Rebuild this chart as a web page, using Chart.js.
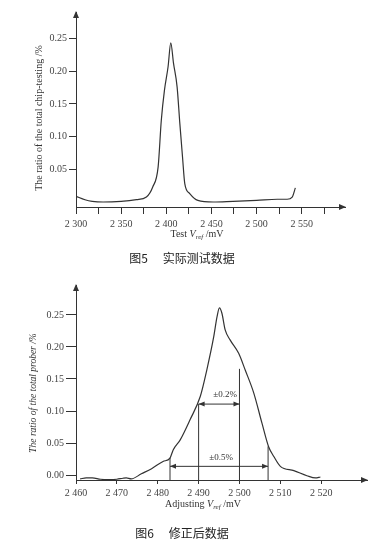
<!DOCTYPE html>
<html>
<head>
<meta charset="utf-8">
<script src="https://cdn.jsdelivr.net/npm/chart.js@4.4.1/dist/chart.umd.min.js"></script>
<style>
    body { margin: 0; background: #fff; width: 387px; height: 542px; position: relative; overflow: hidden;
           font-family: "Liberation Serif", serif; color: #333; }
    canvas { position: absolute; left: 0; }
    #chart1 { top: 0; }
    #chart2 { top: 270px; }
    .t { position: absolute; white-space: nowrap; font-size: 10px; transform: translate(-50%, -50%); }
    .ty { transform: translate(-50%, -50%) rotate(-90deg); }
    .cap { font-family: "Noto Sans CJK SC", sans-serif; font-size: 12px; color: #222; }
    .sub { font-size: 7px; position: relative; top: 2px; font-style: italic; }
</style>
</head>
<body>
<canvas id="chart1" width="387" height="240"></canvas>
<canvas id="chart2" width="387" height="245"></canvas>

<div class="t" style="left:197px;top:233px">Test <i>V</i><span class="sub">ref</span> /mV</div>
<div class="t ty" style="left:38px;top:118px">The ratio of the total chip-testing /%</div>
<div class="t cap" style="left:182px;top:257px">图5&emsp;&nbsp;实际测试数据</div>

<div class="t" style="left:203px;top:503px">Adjusting <i>V</i><span class="sub">ref</span> /mV</div>
<div class="t ty" style="left:33px;top:393px;font-size:9.5px;font-style:italic">The ratio of the total prober /%</div>
<div class="t cap" style="left:182px;top:532px">图6&emsp;&nbsp;修正后数据</div>

<script>
// Fig 5 - measured data
const testVoltage = [2300, 2310, 2318, 2330, 2350, 2367, 2378, 2385, 2391, 2394.5, 2398, 2402, 2405,
    2408, 2412, 2415, 2418, 2420.5, 2426, 2435, 2452, 2474, 2500, 2523, 2534, 2539.5, 2543];
const testRatio = [0.0092, 0.004, 0.0016, 0.0005, 0.0016, 0.0042, 0.0082, 0.0234, 0.054, 0.125, 0.171, 0.2066, 0.243,
    0.212, 0.176, 0.1207, 0.069, 0.0286, 0.0134, 0.003, 0.0005, 0.0016, 0.003, 0.0047, 0.0047, 0.008, 0.022];
const testXTicks = [2300, 2325, 2350, 2375, 2400, 2425, 2450, 2475, 2500, 2525, 2550, 2575];
const testYTicks = [0.05, 0.10, 0.15, 0.20, 0.25];

// Fig 6 - corrected data
const adjVoltage = [2461, 2462.5, 2464, 2466, 2468, 2470, 2471.5, 2472.3, 2473.5, 2476, 2478.5, 2481.3, 2483,
    2483.8, 2485.5, 2487.9, 2490.4, 2492, 2493.7, 2494.5, 2495.1, 2495.7, 2496.5, 2497.7, 2499.8, 2501.4,
    2503.5, 2505.5, 2507.1, 2508.4, 2510, 2513.3, 2516.5, 2518.6, 2519.8];
const adjRatio = [-0.006, -0.0045, -0.0045, -0.0065, -0.007, -0.0065, -0.005, -0.0045, -0.006, 0.002, 0.010, 0.0213, 0.0266,
    0.0396, 0.055, 0.0863, 0.1226, 0.164, 0.216, 0.247, 0.261, 0.2526, 0.2266, 0.211, 0.19, 0.164,
    0.128, 0.081, 0.0447, 0.029, 0.0136, 0.0069, -0.001, -0.0045, -0.003];
const adjXTicks = [2460, 2470, 2480, 2490, 2500, 2510, 2520];
const adjYTicks = [0, 0.05, 0.10, 0.15, 0.20, 0.25];

// tolerance markers in Fig 6
const markerX = [2483, 2490, 2500, 2507];
const markerTop = [0.027, 0.1108, 0.1658, 0.0447];
const spanFrom = [2490, 2483];
const spanTo = [2500, 2507];
const spanY = [0.1108, 0.0136];
const spanText = ['±0.2%', '±0.5%'];
const spanTextX = [2496.5, 2495.5];
const spanTextY = [0.125, 0.0266];

const ink = '#333';
const tickFont = { family: '"Liberation Serif", serif', size: 10 };

function spaced(v) {
    return String(v).replace(/^(\d)/, '$1 ');
}

// arrowheads on axes, span arrows and span labels
const extras = {
    id: 'extras',
    afterDraw(chart) {
        const { ctx, chartArea: a } = chart;
        ctx.save();
        ctx.fillStyle = ink;
        ctx.beginPath();
        ctx.moveTo(a.right + 1, a.bottom);
        ctx.lineTo(a.right - 6, a.bottom - 3);
        ctx.lineTo(a.right - 6, a.bottom + 3);
        ctx.fill();
        ctx.beginPath();
        ctx.moveTo(a.left, a.top - 1);
        ctx.lineTo(a.left - 3, a.top + 6);
        ctx.lineTo(a.left + 3, a.top + 6);
        ctx.fill();

        chart.data.datasets.forEach((ds, i) => {
            if (!ds.arrow) return;
            const pts = chart.getDatasetMeta(i).data;
            const y = pts[0].y;
            [[pts[0].x, -1], [pts[1].x, 1]].forEach(([x, dir]) => {
                ctx.beginPath();
                ctx.moveTo(x, y);
                ctx.lineTo(x - dir * 6, y - 2.5);
                ctx.lineTo(x - dir * 6, y + 2.5);
                ctx.fill();
            });
        });

        const labels = chart.options.plugins.extras.labels || [];
        const xs = chart.scales.x, ys = chart.scales.y;
        ctx.font = '9px "Liberation Serif", serif';
        ctx.textAlign = 'center';
        ctx.textBaseline = 'middle';
        labels.forEach(l => {
            ctx.fillText(l.text, xs.getPixelForValue(l.x), ys.getPixelForValue(l.y));
        });
        ctx.restore();
    }
};

function makeOptions(cfg) {
    return {
        responsive: false,
        animation: false,
        layout: { autoPadding: false, padding: { top: cfg.top, right: cfg.right, left: 0, bottom: 0 } },
        plugins: { legend: { display: false }, tooltip: { enabled: false }, extras: { labels: cfg.labels } },
        scales: {
            x: {
                type: 'linear', min: cfg.xMin, max: cfg.xMax,
                afterFit: s => { s.height = cfg.xHeight; },
                afterBuildTicks: s => { s.ticks = cfg.xTicks.map(v => ({ value: v })); },
                grid: { drawOnChartArea: false, drawTicks: true, tickLength: cfg.xTickLen, color: ink },
                border: { display: true, color: ink, width: 1 },
                ticks: {
                    autoSkip: false, maxRotation: 0, padding: cfg.xPad, color: '#444', font: tickFont,
                    callback: v => (v % cfg.xLabelStep === 0 ? spaced(v) : '')
                }
            },
            y: {
                type: 'linear', min: cfg.yMin, max: cfg.yMax,
                afterFit: s => { s.width = 76; },
                afterBuildTicks: s => { s.ticks = cfg.yTicks.map(v => ({ value: v })); },
                grid: { drawOnChartArea: false, drawTicks: true, tickLength: cfg.yTickLen, color: ink },
                border: { display: true, color: ink, width: 1 },
                ticks: { padding: 2, color: '#444', font: tickFont, callback: v => v.toFixed(2) }
            }
        }
    };
}

function curve(xs, ys) {
    return {
        data: xs.map((x, i) => ({ x: x, y: ys[i] })),
        borderColor: ink, borderWidth: 1.2, pointRadius: 0,
        cubicInterpolationMode: 'monotone', fill: false
    };
}

function segment(points, arrow) {
    return { data: points, borderColor: ink, borderWidth: 1, pointRadius: 0, tension: 0, fill: false, arrow: arrow };
}

new Chart(document.getElementById('chart1'), {
    type: 'line',
    data: { datasets: [curve(testVoltage, testRatio)] },
    options: makeOptions({
        top: 12, right: 42, xHeight: 33, xMin: 2300, xMax: 2598, yMin: -0.0071, yMax: 0.29,
        xTicks: testXTicks, yTicks: testYTicks, xLabelStep: 50, xTickLen: 7, xPad: 4, yTickLen: 7, labels: []
    }),
    plugins: [extras]
});

const adjYMin = -0.0077;
const adjSets = [curve(adjVoltage, adjRatio)];
markerX.forEach((x, i) => {
    adjSets.push(segment([{ x: x, y: adjYMin }, { x: x, y: markerTop[i] }], false));
});
spanFrom.forEach((x, i) => {
    adjSets.push(segment([{ x: x, y: spanY[i] }, { x: spanTo[i], y: spanY[i] }], true));
});

new Chart(document.getElementById('chart2'), {
    type: 'line',
    data: { datasets: adjSets },
    options: makeOptions({
        top: 15, right: 20, xHeight: 35, xMin: 2460, xMax: 2531.2, yMin: adjYMin, yMax: 0.2967,
        xTicks: adjXTicks, yTicks: adjYTicks, xLabelStep: 10, xTickLen: 4, xPad: 3, yTickLen: 10,
        labels: spanText.map((t, i) => ({ text: t, x: spanTextX[i], y: spanTextY[i] }))
    }),
    plugins: [extras]
});
</script>
</body>
</html>
